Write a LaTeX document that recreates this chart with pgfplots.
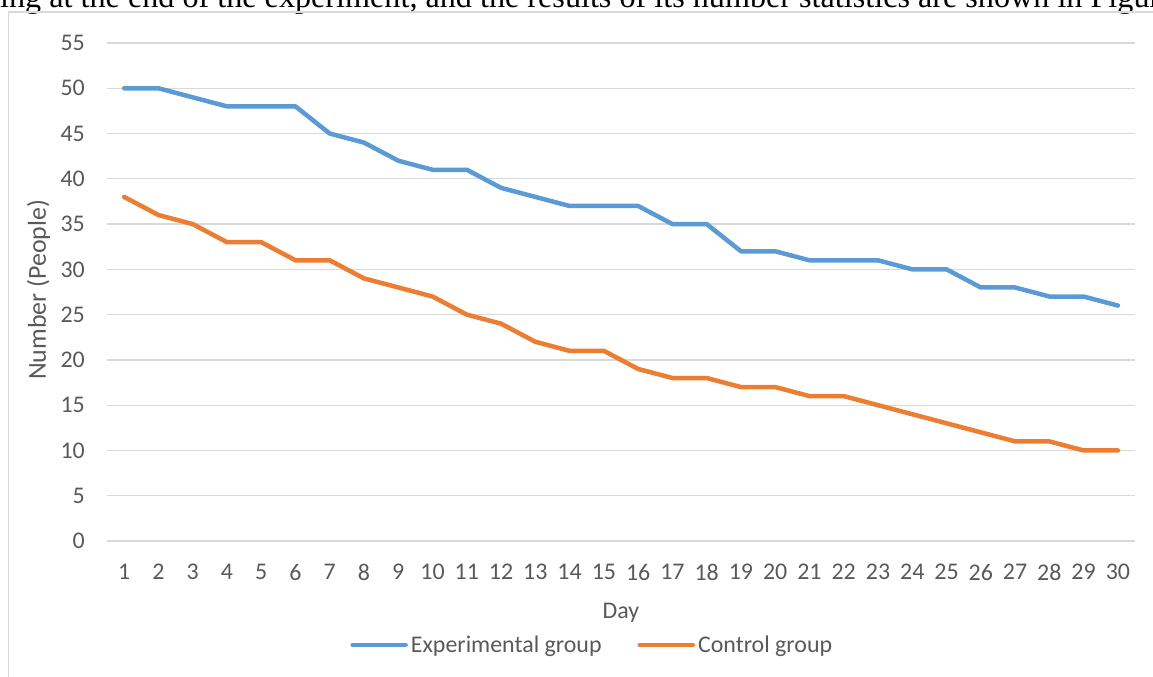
\documentclass[border=0pt]{standalone}
\usepackage{fontspec}
\setmainfont{Carlito}
\newfontfamily\capfont{Liberation Serif}
\usepackage{pgfplots}
\pgfplotsset{compat=1.18}
\definecolor{cblue}{HTML}{5B9BD5}
\definecolor{corange}{HTML}{ED7D31}
\definecolor{tgrey}{HTML}{595959}
\definecolor{ggrid}{HTML}{D9D9D9}
\begin{document}
\begin{tikzpicture}
\useasboundingbox (0,0) rectangle (1153bp,677bp);
\clip (0,0) rectangle (1153bp,677bp);
\node[anchor=base west, inner sep=0pt, font=\capfont\fontsize{32.3}{36}\selectfont] at (0bp,669.5bp) {ing at the end of the experiment, and the results of its number statistics are shown in Figure};
\draw[ggrid, line width=1.3bp] (8.3bp,-5bp) -- (8.3bp,665bp) -- (1160bp,665bp);
\begin{axis}[
 at={(107bp,136bp)}, anchor=south west,
 scale only axis, width=1028bp, height=498bp,
 xmin=0.5, xmax=30.5, ymin=0, ymax=55,
 xtick={1,...,30}, ytick={0,5,...,55},
 ymajorgrids, grid style={ggrid, line width=1.2bp},
 axis line style={draw=none}, tick style={draw=none},
 ticklabel style={font=\fontsize{24}{28}\selectfont, text=tgrey, inner sep=0pt},
 /pgf/number format/assume math mode=true,
 xticklabel style={anchor=north, yshift=-23bp},
 yticklabel style={anchor=east, xshift=-22bp},
 xlabel={Day}, ylabel={Number (People)},
 label style={font=\fontsize{24}{28}\selectfont, text=tgrey, inner sep=0pt},
 xlabel style={at={(axis description cs:0.5,0)}, anchor=base, yshift=-77bp},
 ylabel style={at={([xshift=-61bp]axis description cs:0,0.504)}, anchor=base, font=\fontsize{26}{30}\selectfont},
 legend columns=2,
 legend style={at={(axis description cs:0.2366,-0.2088)}, anchor=west, draw=none, fill=none, inner sep=0pt,
   font=\fontsize{24}{28}\selectfont, text=tgrey,
   nodes={inner sep=0pt},
   /tikz/every odd column/.append style={column sep=3bp},
   /tikz/every even column/.append style={column sep=36bp}},
 legend image code/.code={\draw[#1, line width=4.5bp, line cap=round] (0bp,0bp) -- (53bp,0bp);},
]
\addplot[cblue, line width=4.5bp, line join=round, line cap=round, mark=none] coordinates {
(1,50) (2,50) (3,49) (4,48) (5,48) (6,48) (7,45) (8,44) (9,42) (10,41)
(11,41) (12,39) (13,38) (14,37) (15,37) (16,37) (17,35) (18,35) (19,32) (20,32)
(21,31) (22,31) (23,31) (24,30) (25,30) (26,28) (27,28) (28,27) (29,27) (30,26)};
\addplot[corange, line width=4.5bp, line join=round, line cap=round, mark=none] coordinates {
(1,38) (2,36) (3,35) (4,33) (5,33) (6,31) (7,31) (8,29) (9,28) (10,27)
(11,25) (12,24) (13,22) (14,21) (15,21) (16,19) (17,18) (18,18) (19,17) (20,17)
(21,16) (22,16) (23,15) (24,14) (25,13) (26,12) (27,11) (28,11) (29,10) (30,10)};
\legend{Experimental group, Control group}
\end{axis}
\end{tikzpicture}
\end{document}
